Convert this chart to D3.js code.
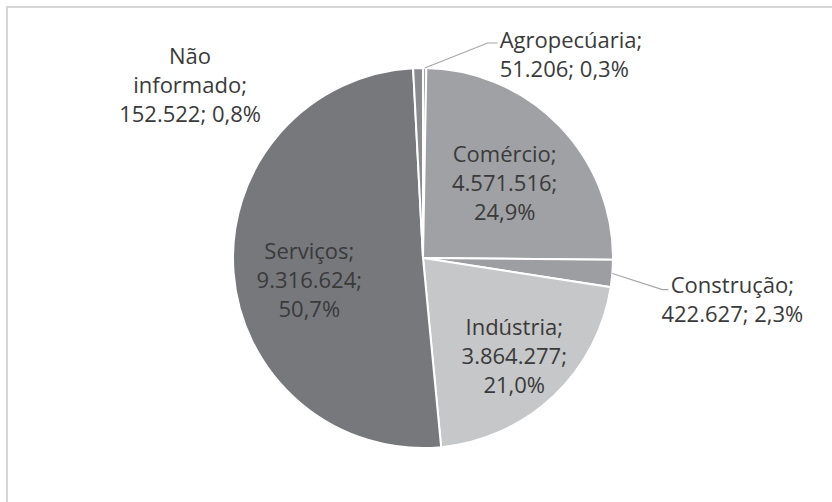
<!DOCTYPE html>
<html>
<head>
<meta charset="utf-8" />
<script src="https://cdn.jsdelivr.net/npm/d3@7"></script>
<style>
    body { margin: 0; background: #fff; }
    .lbl { font-family: "Open Sans", sans-serif; font-size: 22px; fill: #3a3a3a; }
</style>
</head>
<body>
<script>
    // data
    var categories = ["Agropecúaria", "Comércio", "Construção", "Indústria", "Serviços", "Não informado"];
    var values = [51206, 4571516, 422627, 3864277, 9316624, 152522];
    var valueLabels = ["51.206", "4.571.516", "422.627", "3.864.277", "9.316.624", "152.522"];
    var pctLabels = ["0,3%", "24,9%", "2,3%", "21,0%", "50,7%", "0,8%"];
    var colors = ["#a3a4a6", "#a0a1a4", "#9d9ea1", "#c6c7c9", "#77787c", "#8a8b8e"];

    var svgWidth = 832, svgHeight = 502;
    var cx = 423, cy = 258, radius = 190;
    var lineH = 29;

    var svg = d3.select("body").append("svg")
        .attr("width", svgWidth)
        .attr("height", svgHeight);

    // chart frame
    svg.append("rect")
        .attr("x", 7).attr("y", 7)
        .attr("width", svgWidth).attr("height", svgHeight)
        .attr("fill", "none")
        .attr("stroke", "#d6d6d6")
        .attr("stroke-width", 2);

    var g = svg.append("g").attr("transform", "translate(" + cx + "," + cy + ")");

    var pie = d3.pie().sort(null).value(function(d) { return d; });
    var arcs = pie(values);
    var arc = d3.arc().innerRadius(0).outerRadius(radius);

    g.selectAll("path.slice")
        .data(arcs)
        .enter().append("path")
        .attr("class", "slice")
        .attr("d", arc)
        .attr("fill", function(d, i) { return colors[i]; })
        .attr("stroke", "#fff")
        .attr("stroke-width", 2);

    function mid(d) { return (d.startAngle + d.endAngle) / 2; }
    function polar(a, r) { return [Math.sin(a) * r, -Math.cos(a) * r]; }

    function addText(x, y, lines, anchor) {
        var t = g.append("text").attr("class", "lbl").attr("text-anchor", anchor || "middle");
        lines.forEach(function(s, k) {
            t.append("tspan")
                .attr("x", x)
                .attr("y", y + k * lineH)
                .attr("dominant-baseline", "central")
                .text(s);
        });
    }

    // inside labels: radius factor of the slice midpoint, plus a small vertical nudge
    var inside = { 1: [0.6, 3], 3: [0.7, 0], 4: [0.6, 13] };
    Object.keys(inside).forEach(function(k) {
        var i = +k, p = polar(mid(arcs[i]), radius * inside[k][0]);
        var lines = [categories[i] + ";", valueLabels[i] + ";", pctLabels[i]];
        addText(p[0], p[1] - lineH + inside[k][1], lines);
    });

    // outside labels with leader lines
    function leader(i, elbow, run) {
        var p0 = polar(mid(arcs[i]), radius);
        var p1 = [p0[0] + elbow[0], p0[1] + elbow[1]];
        var p2 = [p1[0] + run, p1[1]];
        g.append("polyline")
            .attr("points", [p0, p1, p2].map(function(p) { return p.join(","); }).join(" "))
            .attr("fill", "none")
            .attr("stroke", "#a6a6a6")
            .attr("stroke-width", 1.2);
        return p2;
    }

    var a = leader(0, [63, -25], 10);
    addText(a[0] + 2, a[1] - 4, [categories[0] + ";", valueLabels[0] + "; " + pctLabels[0]], "start");

    var c = leader(2, [50, 16], 6);
    addText(c[0] + 64, c[1] - 6, [categories[2] + ";", valueLabels[2] + "; " + pctLabels[2]]);

    // Não informado: label placed beside the slice, no leader
    var n = polar(mid(arcs[5]), radius);
    addText(n[0] - 228, n[1] - 13, ["Não", "informado;", valueLabels[5] + "; " + pctLabels[5]]);
</script>
</body>
</html>
